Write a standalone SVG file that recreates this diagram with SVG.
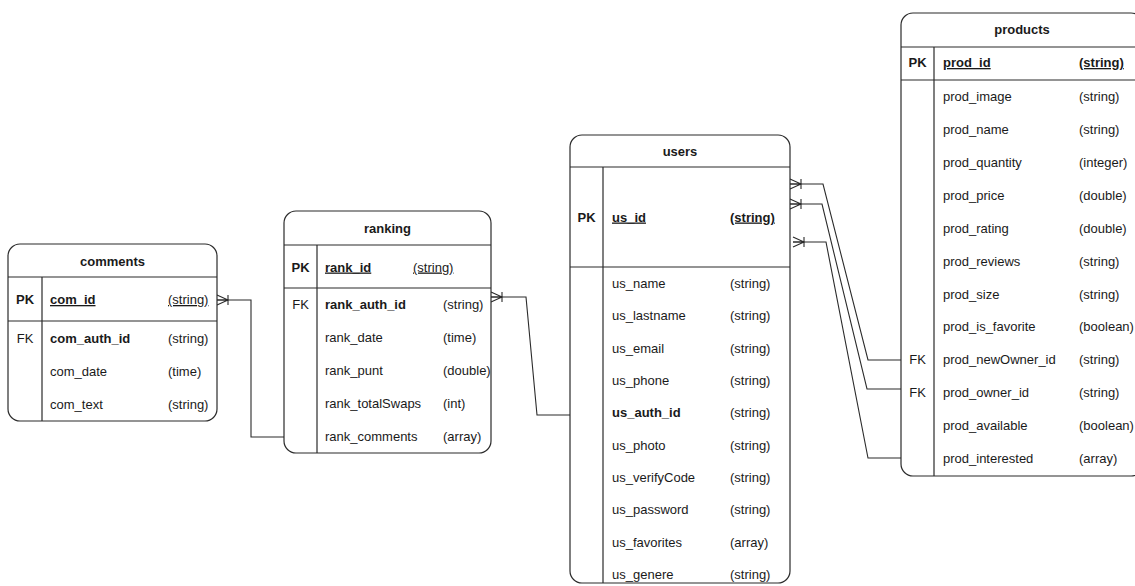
<svg xmlns="http://www.w3.org/2000/svg" width="1135" height="586" viewBox="0 0 1135 586">
  <style>
    .box { fill: #ffffff; stroke: #2b2b2b; stroke-width: 1.2; }
    .sep { stroke: #2b2b2b; stroke-width: 1.2; fill: none; }
    text { font-family: "Liberation Sans", Arial, Helvetica, sans-serif; font-size: 13px; fill: #1a1a1a; }
    .title { font-weight: bold; text-anchor: middle; }
    .key { text-anchor: middle; }
    .b { font-weight: bold; }
    .u { text-decoration: underline; }
    .edge { fill: none; stroke: #2b2b2b; stroke-width: 1.1; }
  </style>
  <defs>
    <!-- crow's foot with a bar: "one or many" -->
    <marker id="oneMany" markerUnits="userSpaceOnUse" markerWidth="16" markerHeight="16" viewBox="-2 -8 16 16" refX="0" refY="0" orient="auto" overflow="visible">
      <path d="M0,-5 L11,0 L0,5 M0,0 L11,0 M11,-5 L11,5" fill="none" stroke="#2b2b2b" stroke-width="1.1"/>
    </marker>
  </defs>

  <!-- relationships -->
  <g id="connectors">
    <path class="edge" d="M217,300 L251,300 L251,437 L284,437" marker-start="url(#oneMany)"/>
    <path class="edge" d="M491,297 L526,297 L537,415 L570,415" marker-start="url(#oneMany)"/>
    <path class="edge" d="M790,184 L823,184 L868,360 L901,360" marker-start="url(#oneMany)"/>
    <path class="edge" d="M790,204 L822,204 L867,389 L901,389" marker-start="url(#oneMany)"/>
    <path class="edge" d="M793,242 L826,242 L868,458 L901,458" marker-start="url(#oneMany)"/>
  </g>

  <!-- comments -->
  <g id="comments">
    <rect class="box" x="8" y="244" width="209" height="177" rx="12"/>
    <path class="sep" d="M8,277 H217 M8,321 H217 M42,277 V421"/>
    <text class="title" x="112.5" y="265.5">comments</text>
    <text class="key b" x="25" y="304">PK</text>
    <text class="b u" x="50" y="304">com_id</text>
    <text class="u" x="168" y="304">(string)</text>
    <text class="key" x="25" y="342.5">FK</text>
    <text class="b" x="50" y="342.5">com_auth_id</text>
    <text x="168" y="342.5">(string)</text>
    <text x="50" y="375.5">com_date</text>
    <text x="168" y="375.5">(time)</text>
    <text x="50" y="408.5">com_text</text>
    <text x="168" y="408.5">(string)</text>
  </g>

  <!-- ranking -->
  <g id="ranking">
    <rect class="box" x="284" y="211" width="207" height="242" rx="12"/>
    <path class="sep" d="M284,245 H491 M284,288 H491 M317,245 V453"/>
    <text class="title" x="387.5" y="232.5">ranking</text>
    <text class="key b" x="300.5" y="271.5">PK</text>
    <text class="b u" x="325" y="271.5">rank_id</text>
    <text class="u" x="413" y="271.5">(string)</text>
    <text class="key" x="300.5" y="308.5">FK</text>
    <text class="b" x="325" y="308.5">rank_auth_id</text>
    <text x="443" y="308.5">(string)</text>
    <text x="325" y="341.5">rank_date</text>
    <text x="443" y="341.5">(time)</text>
    <text x="325" y="374.5">rank_punt</text>
    <text x="443" y="374.5">(double)</text>
    <text x="325" y="408">rank_totalSwaps</text>
    <text x="443" y="408">(int)</text>
    <text x="325" y="441">rank_comments</text>
    <text x="443" y="441">(array)</text>
  </g>

  <!-- users -->
  <g id="users">
    <rect class="box" x="570" y="135" width="220" height="448" rx="12"/>
    <path class="sep" d="M570,167 H790 M570,267 H790 M603,167 V583"/>
    <text class="title" x="680" y="155.5">users</text>
    <text class="key b" x="586.5" y="221.5">PK</text>
    <text class="b u" x="612" y="221.5">us_id</text>
    <text class="b u" x="730" y="221.5">(string)</text>
    <text x="612" y="287.5">us_name</text>
    <text x="730" y="287.5">(string)</text>
    <text x="612" y="320">us_lastname</text>
    <text x="730" y="320">(string)</text>
    <text x="612" y="352.5">us_email</text>
    <text x="730" y="352.5">(string)</text>
    <text x="612" y="385">us_phone</text>
    <text x="730" y="385">(string)</text>
    <text class="b" x="612" y="417">us_auth_id</text>
    <text x="730" y="417">(string)</text>
    <text x="612" y="449.5">us_photo</text>
    <text x="730" y="449.5">(string)</text>
    <text x="612" y="482">us_verifyCode</text>
    <text x="730" y="482">(string)</text>
    <text x="612" y="514">us_password</text>
    <text x="730" y="514">(string)</text>
    <text x="612" y="546.5">us_favorites</text>
    <text x="730" y="546.5">(array)</text>
    <text x="612" y="579">us_genere</text>
    <text x="730" y="579">(string)</text>
  </g>

  <!-- products -->
  <g id="products">
    <rect class="box" x="901" y="13" width="242" height="463" rx="12"/>
    <path class="sep" d="M901,47 H1143 M901,80 H1143 M934,47 V476"/>
    <text class="title" x="1022" y="33.5">products</text>
    <text class="key b" x="917.5" y="67">PK</text>
    <text class="b u" x="943" y="67">prod_id</text>
    <text class="b u" x="1079" y="67">(string)</text>
    <text x="943" y="101">prod_image</text>
    <text x="1079" y="101">(string)</text>
    <text x="943" y="134">prod_name</text>
    <text x="1079" y="134">(string)</text>
    <text x="943" y="167">prod_quantity</text>
    <text x="1079" y="167">(integer)</text>
    <text x="943" y="199.5">prod_price</text>
    <text x="1079" y="199.5">(double)</text>
    <text x="943" y="232.5">prod_rating</text>
    <text x="1079" y="232.5">(double)</text>
    <text x="943" y="265.5">prod_reviews</text>
    <text x="1079" y="265.5">(string)</text>
    <text x="943" y="298.5">prod_size</text>
    <text x="1079" y="298.5">(string)</text>
    <text x="943" y="331">prod_is_favorite</text>
    <text x="1079" y="331">(boolean)</text>
    <text class="key" x="917.5" y="364">FK</text>
    <text x="943" y="364">prod_newOwner_id</text>
    <text x="1079" y="364">(string)</text>
    <text class="key" x="917.5" y="397">FK</text>
    <text x="943" y="397">prod_owner_id</text>
    <text x="1079" y="397">(string)</text>
    <text x="943" y="430">prod_available</text>
    <text x="1079" y="430">(boolean)</text>
    <text x="943" y="463">prod_interested</text>
    <text x="1079" y="463">(array)</text>
  </g>
</svg>
